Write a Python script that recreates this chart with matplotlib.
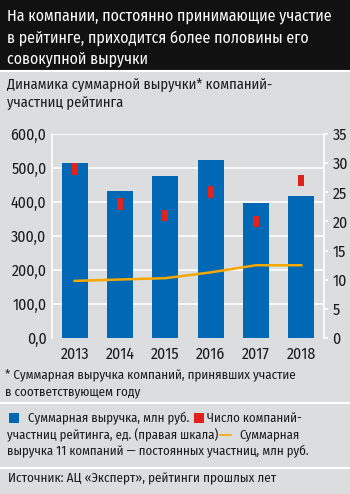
import matplotlib
matplotlib.use("Agg")
import matplotlib.pyplot as plt
from matplotlib.patches import Rectangle
from matplotlib.lines import Line2D

# --- data -------------------------------------------------------------
years = ["2013", "2014", "2015", "2016", "2017", "2018"]
revenue_total = [515.0, 433.0, 477.0, 523.0, 397.0, 418.0]      # млн руб.
companies_count = [29, 23, 21, 25, 20, 27]                       # ед., правая шкала
revenue_core11 = [168.0, 172.0, 176.0, 193.0, 214.0, 214.0]      # млн руб.
left_ticks = [0, 100, 200, 300, 400, 500, 600]
right_ticks = [0, 5, 10, 15, 20, 25, 30, 35]

# --- style ------------------------------------------------------------
plt.rcParams["font.family"] = ["Fira Sans Condensed", "DejaVu Sans"]
plt.rcParams["font.stretch"] = "condensed"

BG = "#dcdddf"
BLUE = "#0068b4"
RED = "#e3211c"
ORANGE = "#f6a800"
TXT = "#1a1a1a"

W, H = 350, 494
fig = plt.figure(figsize=(W / 100, H / 100), dpi=100, facecolor=BG)
renderer = fig.canvas.get_renderer()


def fx(px):
    return px / W


def fy(py):
    return 1 - py / H


def text_width(s, size):
    t = fig.text(0, 0, s, fontsize=size)
    w = t.get_window_extent(renderer=renderer).width
    t.remove()
    return w


def fit_size(s, width_px, base=10.0):
    return base * width_px / text_width(s, base)


# title band
fig.patches.append(Rectangle((0, fy(70)), 1, 70 / H, transform=fig.transFigure,
                             facecolor="#111111", edgecolor="none", zorder=0))
fig.add_artist(Line2D([0, 1], [fy(71), fy(71)], color="white", lw=1.5))
title_lines = ["На компании, постоянно принимающие участие",
               "в рейтинге, приходится более половины его",
               "совокупной выручки"]
title_fs = fit_size(title_lines[0], 333 - 7)
for i, line in enumerate(title_lines):
    fig.text(fx(7), fy(16 + 22 * i), line, color="white", fontsize=title_fs,
             va="center", ha="left")

sub_lines = ["Динамика суммарной выручки* компаний-", "участниц рейтинга"]
sub_fs = fit_size(sub_lines[0], 273 - 7)
for i, line in enumerate(sub_lines):
    fig.text(fx(7), fy(85 + 18 * i), line, color=TXT, fontsize=sub_fs, va="center")

# --- chart ------------------------------------------------------------
tick_fs = fit_size("600,0", 36)
ax = fig.add_axes([fx(52), fy(338), fx(324) - fx(52), (338 - 134) / H])
ax.set_facecolor(BG)
x = list(range(len(years)))
ax.set_xlim(-0.5, len(years) - 0.5)
ax.set_ylim(0, 600)
ax.set_yticks(left_ticks)
ax.set_yticklabels([f"{v:.1f}".replace(".", ",") for v in left_ticks])
for v in left_ticks[1:]:
    ax.axhline(v, color="white", lw=1.2, zorder=0)
ax.bar(x, revenue_total, width=0.57, color=BLUE, zorder=2)
ax.set_xticks(x)
ax.set_xticklabels(years)
for s in ["top", "bottom", "right"]:
    ax.spines[s].set_visible(False)
ax.spines["left"].set_color("white")
ax.spines["left"].set_linewidth(1.2)
ax.tick_params(axis="y", length=0, pad=4, labelsize=tick_fs, labelcolor=TXT)
ax.tick_params(axis="x", length=0, pad=6, labelsize=tick_fs, labelcolor=TXT)

ax2 = ax.twinx()
ax2.set_ylim(0, 35)
ax2.set_yticks(right_ticks)
ax2.set_yticklabels([str(v) for v in right_ticks])
for s in ["top", "bottom", "left"]:
    ax2.spines[s].set_visible(False)
ax2.spines["right"].set_color("white")
ax2.spines["right"].set_linewidth(1.2)
ax2.tick_params(axis="y", length=3, width=1.2, color="white", pad=3,
                labelsize=tick_fs, labelcolor=TXT)
# red marks: short vertical bars centred on each count
ax2.bar(x, [2.0] * len(x), bottom=[c - 1.0 for c in companies_count],
        width=0.13, color=RED, zorder=3)
# core-11 revenue line on the left (млн руб.) scale
ax.plot(x, revenue_core11, color=ORANGE, lw=1.8, zorder=4)
ax.set_zorder(1)
ax2.set_zorder(2)
ax2.patch.set_visible(False)

# --- notes ------------------------------------------------------------
note_lines = ["* Суммарная выручка компаний, принявших участие",
              "в соответствующем году"]
note_fs = fit_size(note_lines[0], 298 - 5)
for i, line in enumerate(note_lines):
    fig.text(fx(5), fy(375 + 17 * i), line, color=TXT, fontsize=note_fs, va="center")
fig.add_artist(Line2D([0, 1], [fy(403), fy(403)], color="white", lw=1.5))

# legend, laid out piece by piece
leg_last = "выручка 11 компаний — постоянных участниц, млн руб."
leg_fs = fit_size(leg_last, 310 - 7)


def put(px, py, s):
    t = fig.text(fx(px), fy(py), s, color=TXT, fontsize=leg_fs, va="center")
    return t.get_window_extent(renderer=renderer).x1


def square(px, py, color):
    fig.patches.append(Rectangle((fx(px), fy(py + 5)), fx(10), 10 / H,
                                 transform=fig.transFigure, facecolor=color,
                                 edgecolor="none"))


square(9, 418, BLUE)
end = put(28, 418, "Суммарная выручка, млн руб.")
square(end + 5, 418, RED)
put(end + 18, 418, "Число компаний-")
end = put(7, 435, "участниц рейтинга, ед. (правая шкала)")
fig.add_artist(Line2D([fx(end + 2), fx(end + 13)], [fy(435), fy(435)],
                      color=ORANGE, lw=1.2))
put(end + 21, 435, "Суммарная")
put(7, 451, leg_last)
fig.add_artist(Line2D([0, 1], [fy(468), fy(468)], color="white", lw=1.5))

src = "Источник: АЦ «Эксперт», рейтинги прошлых лет"
fig.text(fx(8), fy(479), src, color=TXT, fontsize=fit_size(src, 277 - 8), va="center")

fig.savefig("out.png", dpi=100, facecolor=BG)
